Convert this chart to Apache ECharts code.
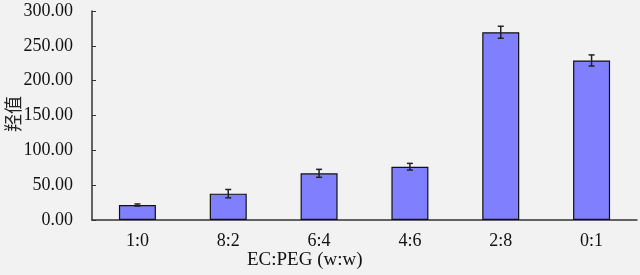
<!DOCTYPE html>
<html><head><meta charset="utf-8">
<script src="https://cdn.jsdelivr.net/npm/echarts@6/dist/echarts.min.js"></script>
<style>html,body{margin:0;padding:0;background:#f2f2f2}#c{width:640px;height:275px}</style>
</head><body><div id="c"></div>
<script>
var categories = ['1:0', '8:2', '6:4', '4:6', '2:8', '0:1'];
var values = [21.5, 37.8, 67.0, 76.5, 269.5, 229.0];
var errors = [1.5, 6.0, 5.7, 4.8, 8.6, 8.0];
var yTicks = [0, 50, 100, 150, 200, 250, 300];

var chart = echarts.init(document.getElementById('c'));
var font = 'Liberation Serif, Times New Roman, serif';
var errData = values.map(function (v, i) { return [i, v - errors[i], v + errors[i]]; });
chart.setOption({
  backgroundColor: '#f2f2f2',
  animation: false,
  grid: { left: 92, right: 3, top: 11, bottom: 55 },
  xAxis: {
    type: 'category', data: categories,
    axisLine: { lineStyle: { color: '#333', width: 1.5 } },
    axisTick: { inside: true, length: 4, lineStyle: { color: '#333' } },
    axisLabel: { color: '#111', fontFamily: font, fontSize: 18, margin: 12 }
  },
  yAxis: {
    type: 'value', min: yTicks[0], max: yTicks[yTicks.length - 1], interval: 50,
    axisLine: { show: true, lineStyle: { color: '#333', width: 1.5 } },
    axisTick: { show: true, inside: true, length: 4, lineStyle: { color: '#333' } },
    splitLine: { show: false },
    axisLabel: { color: '#111', fontFamily: font, fontSize: 18, margin: 19,
      formatter: function (v) { return v.toFixed(2); } }
  },
  graphic: [
    { type: 'text', left: 247, top: 251, style: { text: 'EC:PEG (w:w)', font: '19px ' + font, fill: '#111' } },
    { type: 'text', x: 4, y: 132, rotation: Math.PI / 2, style: { text: '羟值', font: '18px "Noto Sans CJK SC"', fill: '#222' } }
  ],
  series: [
    { type: 'bar', data: values, barWidth: 37,
      itemStyle: { color: '#8080ff', borderColor: '#111', borderWidth: 1.2 } },
    { type: 'custom', data: errData, z: 10,
      renderItem: function (params, api) {
        var x = api.value(0);
        var lo = api.coord([x, api.value(1)]);
        var hi = api.coord([x, api.value(2)]);
        var w = 3;
        var st = { stroke: '#222', lineWidth: 1.5 };
        return { type: 'group', children: [
          { type: 'line', shape: { x1: lo[0], y1: lo[1], x2: hi[0], y2: hi[1] }, style: st },
          { type: 'line', shape: { x1: lo[0] - w, y1: lo[1], x2: lo[0] + w, y2: lo[1] }, style: st },
          { type: 'line', shape: { x1: hi[0] - w, y1: hi[1], x2: hi[0] + w, y2: hi[1] }, style: st }
        ] };
      }
    }
  ]
});
</script></body></html>
